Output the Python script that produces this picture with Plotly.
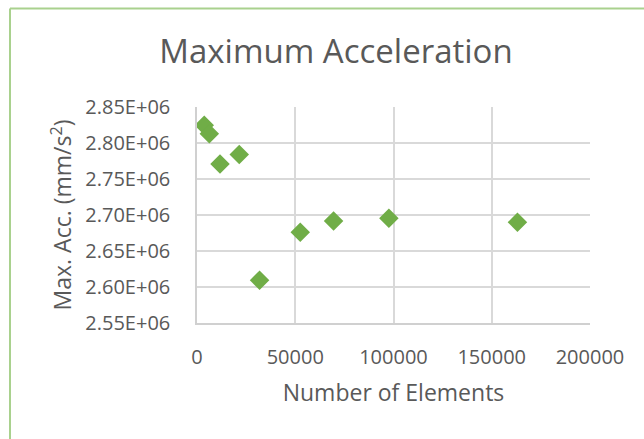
import plotly.graph_objects as go

num_elements = [3700, 6260, 11700, 21500, 31840, 52550, 69500, 97660, 163070]
max_acc = [2.8246e6, 2.8130e6, 2.7710e6, 2.7840e6, 2.6093e6, 2.6760e6, 2.6917e6, 2.6954e6, 2.6899e6]

y_ticks = [2.55e6, 2.60e6, 2.65e6, 2.70e6, 2.75e6, 2.80e6, 2.85e6]
y_tick_labels = ["2.55E+06", "2.60E+06", "2.65E+06", "2.70E+06", "2.75E+06", "2.80E+06", "2.85E+06"]
x_ticks = [0, 50000, 100000, 150000, 200000]
x_tick_labels = ["0", "50000", "100000", "150000", "200000"]

L, R, T, B = 197, 54, 107, 116
W, H = 644, 439
pw, ph = W - L - R, H - T - B

fig = go.Figure()
fig.add_trace(go.Scatter(
    x=num_elements, y=max_acc, mode="markers",
    marker=dict(symbol="diamond", size=15, color="#70ad47"),
    showlegend=False,
))

font_color = "#595959"
fig.update_layout(
    width=W, height=H,
    margin=dict(l=L, r=R, t=T, b=B),
    paper_bgcolor="white", plot_bgcolor="white",
    font=dict(family="Open Sans", color=font_color),
    title=dict(text="Maximum Acceleration", x=(336) / W, xanchor="center",
               y=1 - 51 / H, yanchor="middle",
               font=dict(size=33, color=font_color)),
    xaxis=dict(range=[0, 200000], tickvals=x_ticks, ticktext=x_tick_labels,
               showgrid=True, gridcolor="#d9d9d9", gridwidth=1.5,
               showline=True, linecolor="#d0d0d0", linewidth=1.5,
               zeroline=False, ticks="outside", ticklen=15, tickcolor="rgba(0,0,0,0)",
               tickfont=dict(size=20, color=font_color),
               title=dict(text="Number of Elements", font=dict(size=23, color=font_color), standoff=16)),
    yaxis=dict(range=[2.55e6, 2.85e6], tickvals=y_ticks, ticktext=y_tick_labels,
               showgrid=True, gridcolor="#d9d9d9", gridwidth=1.5,
               showline=True, linecolor="#d0d0d0", linewidth=1.5,
               zeroline=False, ticks="outside", ticklen=21, tickcolor="rgba(0,0,0,0)",
               tickfont=dict(size=20, color=font_color),
               title=dict(text="Max. Acc. (mm/s<sup>2</sup>)", font=dict(size=23, color=font_color), standoff=7)),
    shapes=[
        dict(type="line", xref="paper", yref="paper",
             x0=(10 - L) / pw, x1=(10 - L) / pw, y0=-(B + 5) / ph, y1=(T - 8.5 + ph) / ph,
             line=dict(color="#a9d18e", width=2)),
        dict(type="line", xref="paper", yref="paper",
             x0=(10 - L) / pw, x1=(W + 5 - L) / pw, y0=(T - 8.5 + ph) / ph, y1=(T - 8.5 + ph) / ph,
             line=dict(color="#a9d18e", width=2)),
    ],
)

fig.write_html("out.html")
